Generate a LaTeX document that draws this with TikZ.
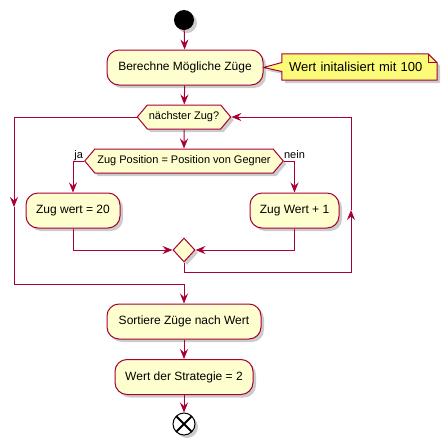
\documentclass[tikz,border=0pt]{standalone}
\usepackage{fontspec}
\setmainfont{Liberation Sans}
\usetikzlibrary{shapes.geometric,shapes.symbols,arrows.meta,calc,shadows,backgrounds}

\definecolor{umlred}{RGB}{168,0,54}
\definecolor{umlfill}{RGB}{254,254,206}
\definecolor{umlnote}{RGB}{251,251,119}

\tikzset{
  umlshadow/.style={drop shadow={shadow xshift=3pt,shadow yshift=-3pt,opacity=.2,fill=black}},
  line/.style={draw=umlred, line width=1pt},
  flow/.style={line, -{Stealth[length=10pt,width=8pt,inset=3.5pt]}},
  act/.style={draw=umlred, fill=umlfill, line width=1pt, rounded corners=12pt,
    minimum height=35pt, inner sep=0pt, font=\fontsize{12}{14}\selectfont, umlshadow},
  hexa/.style={signal, signal to=east and west, signal pointer angle=100,
    draw=umlred, fill=umlfill, line width=1pt, minimum height=24pt,
    inner ysep=0pt, inner xsep=1.5pt, font=\fontsize{11}{13}\selectfont, umlshadow},
  lbl/.style={inner sep=0pt, font=\fontsize{11}{13}\selectfont},
}

\begin{document}
\begin{tikzpicture}[x=1pt,y=-1pt]
  \useasboundingbox (0,0) rectangle (448,445);

  % Start
  \node[circle, fill=black, minimum size=20pt, inner sep=0pt, umlshadow] (start) at (184,20) {};

  % Berechne + Notiz
  \node[act, minimum width=156pt] (berechne) at (185,67.5) {Berechne Mögliche Züge};
  \node[inner xsep=7pt, inner ysep=0pt, text width=141pt, align=left, minimum height=26pt,
        font=\fontsize{13}{15}\selectfont] (notiz) at (359.5,67) {Wert initalisiert mit 100};
  \begin{scope}[on background layer]
    \path[fill=umlnote, draw=umlred, line width=1pt, umlshadow]
      (notiz.north west) -- ($(notiz.north east)+(-9,0)$) -- ($(notiz.north east)+(0,9)$)
      -- (notiz.south east) -- (notiz.south west) -- ($(notiz.west)+(0,4.5)$)
      -- (berechne.east) -- ($(notiz.west)+(0,-4.5)$) -- cycle;
  \end{scope}
  \draw[line] ($(notiz.north east)+(-9,0)$) -- ($(notiz.north east)+(-9,9)$) -- ($(notiz.north east)+(0,9)$);

  % Schleife
  \node[hexa] (naechster) at (184,117) {nächster Zug?};
  \node[hexa, inner xsep=2.5pt] (position) at (184,161) {Zug Position = Position von Gegner};
  \node[lbl, anchor=base east] (ja) at ($(position.west)+(-1,-3)$) {ja};
  \node[lbl, anchor=base west] (nein) at ($(position.east)+(0,-3)$) {nein};

  \node[act, minimum width=94pt] (wertja) at (73,210.5) {Zug wert = 20};
  \node[act, minimum width=89pt] (wertnein) at (294.5,210.5) {Zug Wert + 1};
  \node[diamond, draw=umlred, fill=umlfill, line width=1pt, inner sep=0pt,
        minimum width=22pt, minimum height=24pt, umlshadow] (merge) at (184,250) {};

  % Nach der Schleife
  \node[act, minimum width=154pt] (sortiere) at (184,321.5) {Sortiere Züge nach Wert};
  \node[act, minimum width=138pt] (strategie) at (184,377) {Wert der Strategie = 2};

  % Ende
  \node[circle, draw=black, fill=white, line width=1pt, minimum size=22pt, inner sep=0pt, umlshadow,
        path picture={\draw[line width=2pt]
          (path picture bounding box.north west) -- (path picture bounding box.south east)
          (path picture bounding box.south west) -- (path picture bounding box.north east);}]
        (ende) at (184,424) {};

  \coordinate (lmid) at (14,207);
  \coordinate (lbot) at (14,284);
  \coordinate (rbot) at (351,272);
  \coordinate (rmid) at (351,210);

  % Pfeile
  \draw[flow] (start) -- (berechne);
  \draw[flow] (berechne) -- (naechster);
  \draw[flow] (naechster) -- (position);
  \draw[flow] (position.west) -| (wertja.north);
  \draw[flow] (position.east) -| (wertnein.north);
  \draw[flow] (wertja.south) |- (merge.west);
  \draw[flow] (wertnein.south) |- (merge.east);
  \draw[flow] (merge.south) |- (rbot) -- (rmid);
  \draw[flow] (rmid) |- (naechster.east);
  \draw[flow] (naechster.west) -| (lmid);
  \draw[flow] (lmid) -- (lbot) -| (sortiere.north);
  \draw[flow] (sortiere) -- (strategie);
  \draw[flow] (strategie) -- (ende);
\end{tikzpicture}
\end{document}
